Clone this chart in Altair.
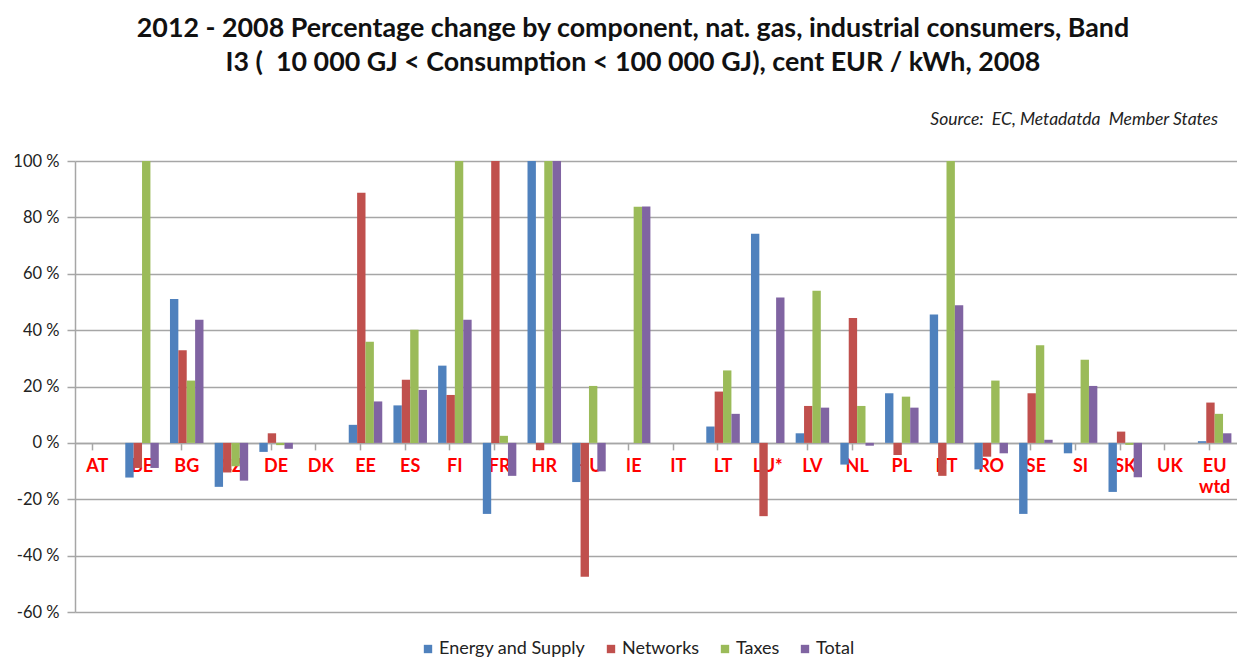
import altair as alt
import pandas as pd

countries = ["AT", "BE", "BG", "CZ", "DE", "DK", "EE", "ES", "FI", "FR", "HR", "HU", "IE",
             "IT", "LT", "LU*", "LV", "NL", "PL", "PT", "RO", "SE", "SI", "SK", "UK", "EU wtd"]
series = ["Energy and Supply", "Networks", "Taxes", "Total"]
colors = ["#4F81BD", "#C0504D", "#9BBB59", "#8064A2"]

energy = [0, -12.3, 51, -15.6, -3.2, 0, 6.4, 13.3, 27.4, -25.2, 100, -13.9, 0,
          0, 5.8, 74.2, 3.4, -7.7, 17.6, 45.5, -9.4, -25.2, -3.7, -17.4, 0, 0.6]
networks = [0, -8.9, 32.9, -10.5, 3.4, 0, 88.7, 22.4, 17, 100, -2.6, -47.5, 0,
            0, 18.2, -26, 13.1, 44.3, -4.3, -11.7, -4.9, 17.6, 0, 4, 0, 14.3]
taxes = [0, 100, 22.1, -8.3, -0.8, 0, 35.9, 40.1, 100, 2.5, 100, 20.2, 83.8,
         0, 25.7, 0, 54, 13.1, 16.4, 100, 22.1, 34.6, 29.5, -0.7, 0, 10.3]
total = [0, -8.9, 43.7, -13.4, -2.1, 0, 14.7, 18.8, 43.7, -11.7, 100, -10.1, 83.9,
         0, 10.3, 51.6, 12.5, -1, 12.5, 48.8, -3.7, 1.1, 20.2, -12.2, 0, 3.4]

y_ticks = [-60, -40, -20, 0, 20, 40, 60, 80, 100]
title_lines = ["2012 - 2008 Percentage change by component, nat. gas, industrial consumers, Band",
               "I3 (\u00a0 10 000 GJ < Consumption < 100 000 GJ), cent EUR / kWh, 2008"]
source = "Source:\u00a0 EC, Metadatda\u00a0 Member States"
label_pos = -5.3

rows = []
for s, vals in zip(series, [energy, networks, taxes, total]):
    for c, v in zip(countries, vals):
        rows.append({"country": c, "series": s, "value": v})
df = pd.DataFrame(rows)

lab_df = pd.DataFrame({"country": countries, "label": [c.replace(" ", "\n") for c in countries],
                       "pos": [label_pos] * len(countries)})

W, H = 1162, 451
x_scale = alt.Scale(domain=countries, paddingInner=0.25, paddingOuter=0.125)
y_scale = alt.Scale(domain=[-60, 100], nice=False)
step = W / len(countries)

x_axis = alt.Axis(labels=False, offset=-(H * 60 / 160), tickSize=7, tickOffset=-0.125 * step,
                  domainColor="#A6A6A6", tickColor="#A6A6A6", domainWidth=1.5, tickWidth=1.5,
                  grid=False)
y_axis = alt.Axis(values=y_ticks, labelExpr="datum.value + ' %'", grid=True,
                  gridColor="#A6A6A6", gridWidth=1.5, domainColor="#A6A6A6", domainWidth=1.5,
                  tickColor="#A6A6A6", tickWidth=1.5, tickSize=8, labelFontSize=16.5,
                  labelFont="Lato", labelColor="#222222", labelPadding=8)

labels = alt.Chart(lab_df).mark_text(
    color="#FF0000", fontWeight="bold", fontSize=18, font="Lato", baseline="top",
    lineBreak="\n", lineHeight=21, align="center"
).encode(
    x=alt.X("country:N", scale=x_scale, sort=countries, title=None, axis=x_axis),
    y=alt.Y("pos:Q", scale=y_scale, title=None, axis=y_axis),
    text="label:N",
)

bars = alt.Chart(df).mark_bar(clip=True).encode(
    x=alt.X("country:N", scale=x_scale, sort=countries, title=None, axis=x_axis),
    xOffset=alt.XOffset("series:N", sort=series, scale=alt.Scale(domain=series, paddingInner=0, paddingOuter=0)),
    y=alt.Y("value:Q", scale=y_scale, title=None, axis=y_axis),
    color=alt.Color("series:N", sort=series, scale=alt.Scale(domain=series, range=colors),
                    legend=alt.Legend(title=None, orient="none", direction="horizontal",
                                      legendX=344, legendY=479, symbolType="square", symbolSize=70,
                                      symbolStrokeWidth=0, labelFontSize=18, labelFont="Lato",
                                      labelColor="#222222", columnPadding=16, labelOffset=2)),
)

src = alt.Chart(pd.DataFrame({"t": [source]})).mark_text(
    align="right", baseline="middle", fontStyle="italic", fontSize=17.5, font="Lato", color="#222222"
).encode(x=alt.value(1143), y=alt.value(-41), text="t:N")

chart = alt.layer(labels, bars, src).properties(
    width=W, height=H,
    autosize="none",
    padding={"left": 67, "top": 153, "right": 0, "bottom": 45},
    title=alt.TitleParams(text=title_lines, anchor="middle", fontSize=26.8, font="Lato",
                          fontWeight="bold", color="#111111", lineHeight=34, offset=34, dx=-23),
).configure_view(stroke=None)

chart.save("out.html", embed_options={"renderer": "svg", "actions": False})
